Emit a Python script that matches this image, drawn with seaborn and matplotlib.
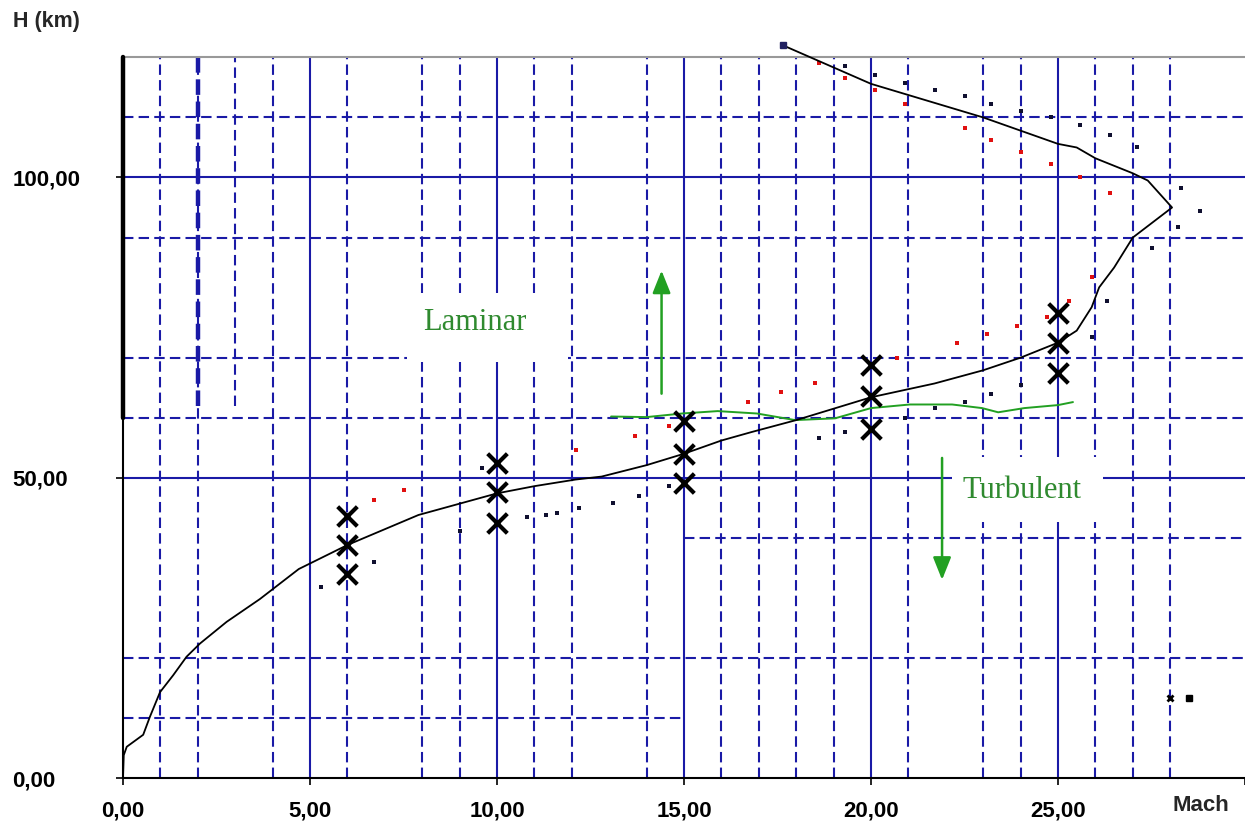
'''Mach vs altitude chart with laminar / turbulent transition'''
import numpy as np
import pandas as pd
import seaborn as sns
import matplotlib.pyplot as plt
from matplotlib.patches import Rectangle

# main trajectory (Mach, H km)
mach_curve = [0.0, 0.02, 0.1, 0.54, 0.72, 0.99, 1.34, 1.7, 2.06, 2.77, 3.66, 4.7, 6.0, 7.9,
              10.0, 11.0, 12.1, 12.8, 14.0, 15.0, 16.0, 16.8, 18.0, 20.0, 21.7, 23.0, 24.0,
              25.0, 25.5, 25.9, 26.1, 26.5, 27.0, 28.05, 27.4, 27.0, 26.0, 25.5, 25.0, 23.0,
              20.0, 17.65]
h_curve = [0.0, 3.8, 5.2, 7.2, 10.2, 14.3, 17.1, 20.2, 22.4, 26.0, 29.8, 34.8, 38.8, 43.8,
           47.4, 48.6, 49.7, 50.2, 52.1, 54.0, 56.2, 57.6, 59.6, 63.4, 65.7, 67.9, 70.0,
           72.5, 74.5, 78.4, 81.7, 85.0, 90.0, 95.0, 99.5, 100.7, 103.2, 105.0, 105.6, 110.0,
           115.6, 122.0]

# cross markers
mach_x = [6, 6, 6, 10, 10, 10, 15, 15, 15, 20, 20, 20, 25, 25, 25]
h_x = [43.7, 38.8, 33.9, 52.4, 47.6, 42.5, 59.4, 54.0, 49.1, 68.7, 63.6, 58.2, 77.5, 72.5, 67.5]

# red dispersion dots
mach_red = [6.7, 7.5, 12.1, 13.7, 14.6, 16.7, 17.6, 18.5, 20.7, 22.3, 23.1, 23.9, 24.7, 25.3,
            25.9, 26.4, 25.6, 24.8, 24.0, 23.2, 22.5, 20.9, 20.1, 19.3, 18.6]
h_red = [46.3, 48.0, 54.7, 57.0, 58.6, 62.6, 64.2, 65.7, 70.0, 72.5, 74.0, 75.2, 76.8, 79.5,
         83.4, 97.5, 100.0, 102.3, 104.2, 106.3, 108.2, 112.3, 114.5, 116.6, 119.0]

# dark dispersion dots
mach_dark = [5.3, 6.7, 9.0, 10.8, 11.3, 11.6, 12.2, 13.1, 13.8, 14.6, 18.6, 19.3, 20.9, 21.7,
             22.5, 23.2, 24.0, 25.9, 26.3, 27.5, 28.2, 28.8, 28.3, 27.1, 26.4, 25.6, 24.8,
             24.0, 23.2, 22.5, 21.7, 20.9, 20.1, 19.3, 9.6]
h_dark = [31.8, 35.9, 41.1, 43.4, 43.8, 44.1, 44.9, 45.8, 46.9, 48.7, 56.6, 57.6, 60.0, 61.6,
          62.6, 64.0, 65.4, 73.4, 79.4, 88.2, 91.7, 94.5, 98.2, 105.0, 107.0, 108.7, 110.0,
          111.1, 112.3, 113.5, 114.5, 115.8, 117.1, 118.5, 51.7]

# transition line (green)
mach_trans = [13.05, 14.0, 14.95, 15.9, 16.95, 17.97, 19.04, 20.0, 21.04, 22.17, 22.97,
              23.4, 24.1, 25.0, 25.4]
h_trans = [60.2, 60.1, 60.7, 61.1, 60.7, 59.6, 59.9, 61.6, 62.2, 62.2, 61.6, 60.9, 61.6,
           62.1, 62.6]

x_ticks = [0, 5, 10, 15, 20, 25, 30]
x_ticklabels = ['0,00', '5,00', '10,00', '15,00', '20,00', '25,00', '']
y_ticks = [0, 50, 100]
y_ticklabels = ['0,00', '50,00', '100,00']

# grid layout of the original sheet (some lines missing / partial)
grid_solid_x = [5, 10, 15, 20, 25]
grid_dash_x = [1, 2, 4, 6, 8, 9, 11, 12, 14, 16, 17, 18, 19, 21, 23, 24, 26, 27, 28]
grid_solid_y = [50, 100]
grid_dash_y = [20, 60, 70, 90, 110]

BLUE = '#1a1aa6'
GREEN_TXT = '#2f8a2f'
GREEN = '#22a022'

sns.set_theme(style='white')
plt.rcParams['font.family'] = ['Liberation Sans', 'DejaVu Sans']

fig = plt.figure(figsize=(12.45, 8.21), dpi=100)
ax = fig.add_axes([123 / 1245, 1 - 778 / 821, 1122 / 1245, (778 - 57.4) / 821])
ax.set_xlim(0, 30)
ax.set_ylim(0, 120)

dash = (0, (5, 2.5))
for x in grid_solid_x:
    ax.axvline(x, color=BLUE, lw=1.5, zorder=1)
for x in grid_dash_x:
    ax.axvline(x, color=BLUE, lw=1.5, ls=dash, zorder=1)
ax.vlines(3, 62, 120, color=BLUE, lw=1.5, ls=dash, zorder=1)
ax.vlines(2, 62, 120, color=BLUE, lw=3.2, ls=(0, (3.5, 1.5)), zorder=1)
for y in grid_solid_y:
    ax.axhline(y, color=BLUE, lw=1.5, zorder=1)
for y in grid_dash_y:
    ax.axhline(y, color=BLUE, lw=1.5, ls=dash, zorder=1)
ax.hlines(40, 15, 30, color=BLUE, lw=1.5, ls=dash, zorder=1)
ax.hlines(10, 0, 15, color=BLUE, lw=1.5, ls=dash, zorder=1)

# white text boxes that hide the grid
ax.add_patch(Rectangle((7.6, 69.2), 4.3, 11.5, facecolor='white', edgecolor='none', zorder=2))
ax.add_patch(Rectangle((22.17, 42.6), 4.03, 10.8, facecolor='white', edgecolor='none', zorder=2))

# data
sns.lineplot(x=mach_curve, y=h_curve, sort=False, estimator=None, color='black', lw=1.3,
             ax=ax, zorder=5)
ax.lines[-1].set_clip_on(False)
sns.lineplot(x=mach_trans, y=h_trans, sort=False, estimator=None, color=GREEN, lw=1.4,
             ax=ax, zorder=4)
sns.scatterplot(x=mach_red, y=h_red, marker='s', s=7, color='#e01010', linewidth=0, ax=ax, zorder=4)
sns.scatterplot(x=mach_dark, y=h_dark, marker='s', s=5, color='#101030', linewidth=0, ax=ax, zorder=4)
sns.scatterplot(x=mach_x, y=h_x, marker='x', s=200, color='black', linewidth=3, ax=ax, zorder=6)
ax.plot([17.65], [122.0], marker='s', ms=4, color='#202060', clip_on=False, zorder=6)
ax.plot([28.0], [13.3], marker='x', ms=5, mew=2, color='black', zorder=6)
ax.plot([28.5], [13.3], marker='s', ms=4, color='black', zorder=6)

# annotations
ax.text(9.4, 75.9, 'Laminar', family='Liberation Serif', fontsize=22, color=GREEN_TXT,
        ha='center', va='center', zorder=7)
ax.text(24.05, 47.9, 'Turbulent', family='Liberation Serif', fontsize=22, color=GREEN_TXT,
        ha='center', va='center', zorder=7)
arrow = dict(arrowstyle='-|>,head_length=0.55,head_width=0.22', color=GREEN, lw=1.8,
             mutation_scale=25, shrinkA=0, shrinkB=0)
ax.annotate('', xy=(14.4, 84.5), xytext=(14.4, 64), arrowprops=arrow, zorder=7)
ax.annotate('', xy=(21.9, 33), xytext=(21.9, 53.3), arrowprops=arrow, zorder=7)

# frame
for side in ['top', 'right']:
    ax.spines[side].set_visible(False)
ax.axhline(120, color='#999999', lw=1.5, zorder=3, clip_on=False)
for side in ['left', 'bottom']:
    ax.spines[side].set_color('black')
    ax.spines[side].set_linewidth(1.5)
ax.plot([0, 0], [60, 120], color='black', lw=3.2, zorder=8, clip_on=False)

ax.set_xticks(x_ticks, x_ticklabels)
ax.set_yticks(y_ticks, y_ticklabels)
ax.tick_params(axis='both', direction='out', length=5, width=1.2, color='black',
               labelsize=16, labelcolor='black', bottom=True, left=True)
ax.tick_params(axis='x', pad=11)
ax.tick_params(axis='y', pad=74.5)
for lab in ax.get_xticklabels() + ax.get_yticklabels():
    lab.set_fontweight('bold')
for lab in ax.get_yticklabels():
    lab.set_horizontalalignment('left')
ax.set_xlabel('')
ax.set_ylabel('')

fig.text(1201 / 1245, 1 - 805 / 821, 'Mach', fontsize=16, fontweight='bold',
         ha='center', va='center')
fig.text(13 / 1245, 1 - 21 / 821, 'H (km)', fontsize=15.5, fontweight='bold',
         ha='left', va='center')

fig.savefig('out.png', dpi=100)
